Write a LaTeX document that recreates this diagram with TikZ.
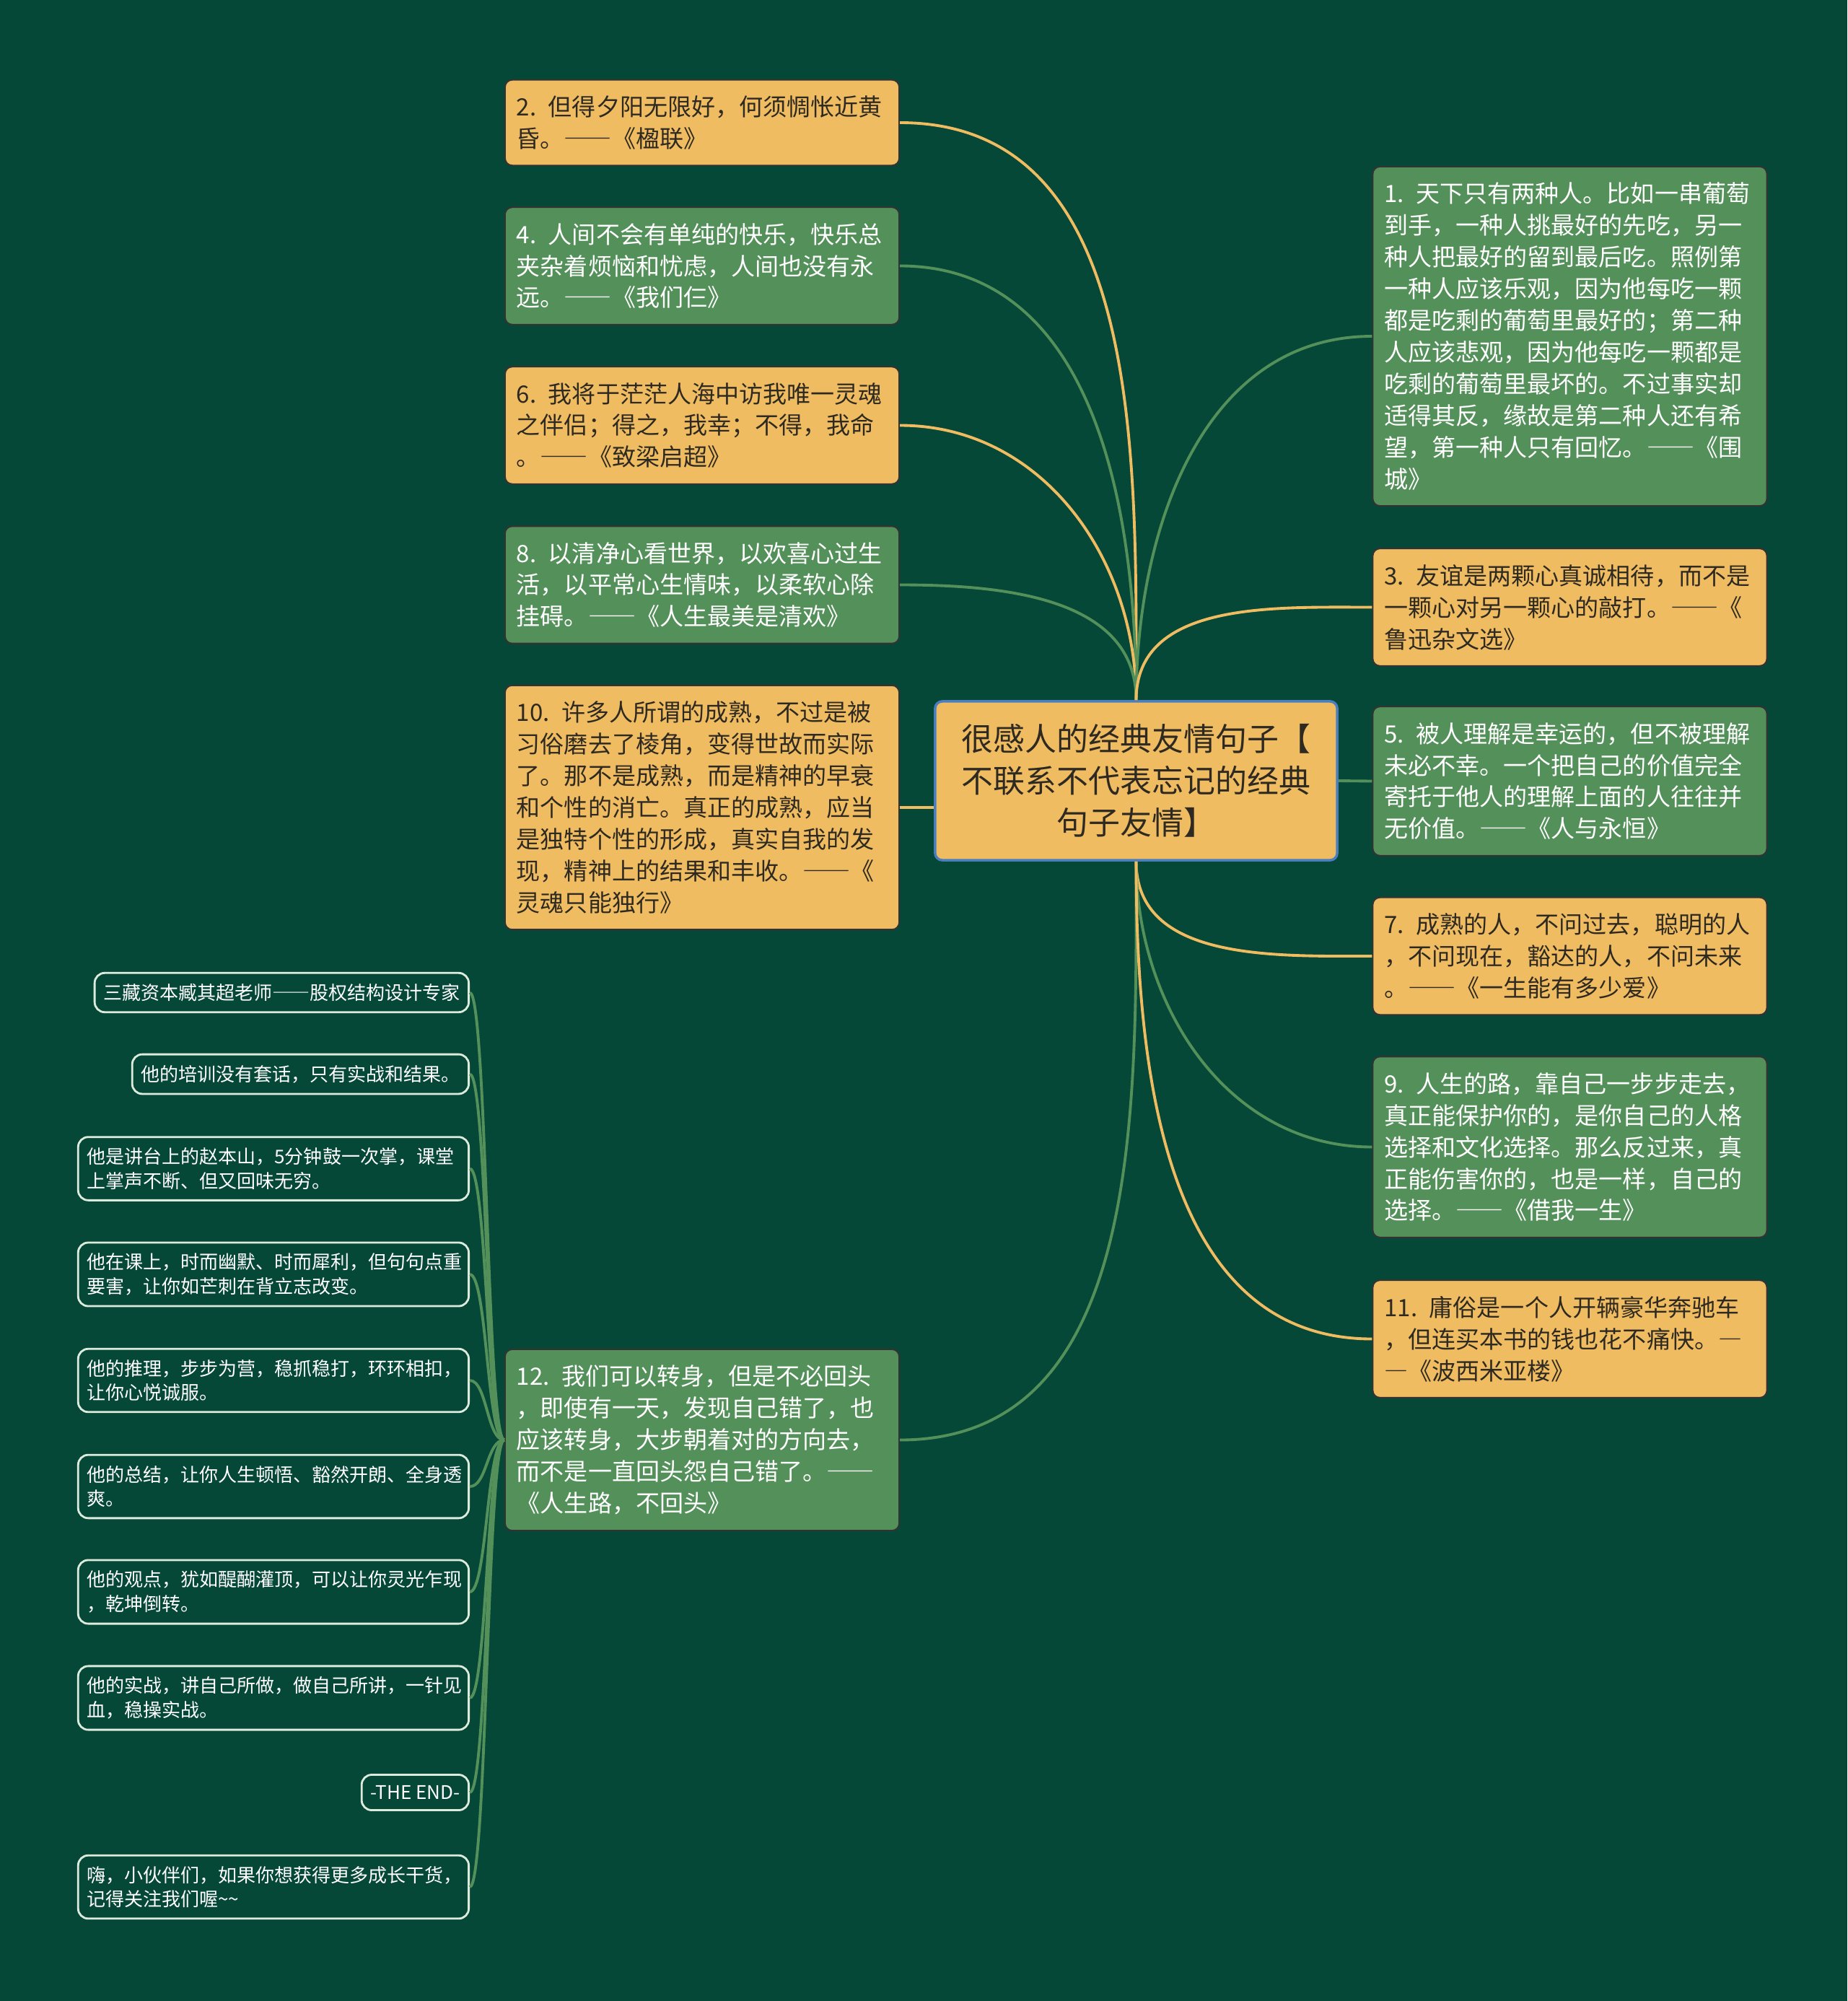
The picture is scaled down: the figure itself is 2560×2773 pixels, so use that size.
\documentclass[tikz,border=0pt]{standalone}
\usepackage{fontspec}
\setmainfont{Noto Sans CJK SC}
\newfontfamily\fwfont[RawFeature=+fwid]{Noto Sans CJK SC}
\newcommand\zdash{{\fwfont ——}}
\newcommand\qfont{\fontsize{9.4pt}{12.5pt}\selectfont\spaceskip=1.4pt\relax}
\definecolor{bgcol}{HTML}{064838}
\definecolor{ylw}{HTML}{F0BC62}
\definecolor{grn}{HTML}{54905A}
\definecolor{ink}{HTML}{2E2A22}
\definecolor{rootline}{HTML}{4A7EBF}
\definecolor{leafline}{HTML}{DDEBDD}

\begin{document}
\begin{tikzpicture}[x=0.01cm, y=-0.01cm,
    ybox/.style={draw=black!80, line width=0.6pt, fill=ylw, text=ink, rounded corners=0.1cm,
        text width=5.14cm, align=left, inner xsep=0.16cm, inner ysep=0.22cm, font=\qfont},
    gbox/.style={ybox, fill=grn, text=white},
    root/.style={draw=rootline, line width=1pt, fill=ylw, text=ink, rounded corners=0.1cm,
        minimum width=5.57cm, minimum height=2.2cm, align=center,
        font=\fontsize{12.5pt}{16.5pt}\selectfont},
    leaf/.style={draw=leafline, line width=0.8pt, rounded corners=0.14cm, text=white,
        align=left, inner xsep=0.12cm, inner ysep=0.15cm, anchor=east,
        font=\fontsize{7.4pt}{9.5pt}\selectfont},
    leafwide/.style={leaf, text width=5.17cm},
    ylink/.style={draw=ylw, line width=1.1pt},
    glink/.style={draw=grn, line width=1.1pt}]
    \fill[bgcol] (0,0) rectangle (2560,2773);
    \pgfmathsetmacro\lx{973}
    \pgfmathsetmacro\rx{2175.5}
    \pgfmathsetmacro\ex{651}
    \node[root] (root) at (1574.5,1082) {很感人的经典友情句子【\\不联系不代表忘记的经典\\句子友情】};
    \node[ybox] (q2) at (\lx,170) {2. 但得夕阳无限好，何须惆怅近黄\\昏。\zdash《楹联》};
    \node[gbox] (q4) at (\lx,368.5) {4. 人间不会有单纯的快乐，快乐总\\夹杂着烦恼和忧虑，人间也没有永\\远。\zdash《我们仨》};
    \node[ybox] (q6) at (\lx,589.5) {6. 我将于茫茫人海中访我唯一灵魂\\之伴侣；得之，我幸；不得，我命\\。\zdash《致梁启超》};
    \node[gbox] (q8) at (\lx,810.5) {8. 以清净心看世界，以欢喜心过生\\活，以平常心生情味，以柔软心除\\挂碍。\zdash《人生最美是清欢》};
    \node[ybox] (q10) at (\lx,1119) {10. 许多人所谓的成熟，不过是被\\习俗磨去了棱角，变得世故而实际\\了。那不是成熟，而是精神的早衰\\和个性的消亡。真正的成熟，应当\\是独特个性的形成，真实自我的发\\现，精神上的结果和丰收。\zdash《\\灵魂只能独行》};
    \node[gbox] (q12) at (\lx,1995.5) {12. 我们可以转身，但是不必回头\\，即使有一天，发现自己错了，也\\应该转身，大步朝着对的方向去，\\而不是一直回头怨自己错了。\zdash\\《人生路，不回头》};
    \node[gbox] (q1) at (\rx,466) {1. 天下只有两种人。比如一串葡萄\\到手，一种人挑最好的先吃，另一\\种人把最好的留到最后吃。照例第\\一种人应该乐观，因为他每吃一颗\\都是吃剩的葡萄里最好的；第二种\\人应该悲观，因为他每吃一颗都是\\吃剩的葡萄里最坏的。不过事实却\\适得其反，缘故是第二种人还有希\\望，第一种人只有回忆。\zdash《围\\城》};
    \node[ybox] (q3) at (\rx,841.5) {3. 友谊是两颗心真诚相待，而不是\\一颗心对另一颗心的敲打。\zdash《\\鲁迅杂文选》};
    \node[gbox] (q5) at (\rx,1082.5) {5. 被人理解是幸运的，但不被理解\\未必不幸。一个把自己的价值完全\\寄托于他人的理解上面的人往往并\\无价值。\zdash《人与永恒》};
    \node[ybox] (q7) at (\rx,1325) {7. 成熟的人，不问过去，聪明的人\\，不问现在，豁达的人，不问未来\\。\zdash《一生能有多少爱》};
    \node[gbox] (q9) at (\rx,1589.5) {9. 人生的路，靠自己一步步走去，\\真正能保护你的，是你自己的人格\\选择和文化选择。那么反过来，真\\正能伤害你的，也是一样，自己的\\选择。\zdash《借我一生》};
    \node[ybox] (q11) at (\rx,1855.5) {11. 庸俗是一个人开辆豪华奔驰车\\，但连买本书的钱也花不痛快。{\fwfont —}\\{\fwfont —}《波西米亚楼》};
    \node[leaf] (l1) at (\ex,1375.5) {三藏资本臧其超老师\zdash 股权结构设计专家};
    \node[leaf] (l2) at (\ex,1488.5) {他的培训没有套话，只有实战和结果。};
    \node[leafwide] (l3) at (\ex,1619.5) {他是讲台上的赵本山，5分钟鼓一次掌，课堂\\上掌声不断、但又回味无穷。};
    \node[leafwide] (l4) at (\ex,1766) {他在课上，时而幽默、时而犀利，但句句点重\\要害，让你如芒刺在背立志改变。};
    \node[leafwide] (l5) at (\ex,1913) {他的推理，步步为营，稳抓稳打，环环相扣，\\让你心悦诚服。};
    \node[leafwide] (l6) at (\ex,2060) {他的总结，让你人生顿悟、豁然开朗、全身透\\爽。};
    \node[leafwide] (l7) at (\ex,2206) {他的观点，犹如醍醐灌顶，可以让你灵光乍现\\，乾坤倒转。};
    \node[leafwide] (l8) at (\ex,2353) {他的实战，讲自己所做，做自己所讲，一针见\\血，稳操实战。};
    \node[leaf] (l9) at (\ex,2484) {-THE END-};
    \node[leafwide] (l10) at (\ex,2615) {嗨，小伙伴们，如果你想获得更多成长干货，\\记得关注我们喔\textasciitilde\textasciitilde};
    \draw[ylink] (root.north) to[out=90,in=0] (q2.east);
    \draw[glink] (root.north) to[out=90,in=0] (q4.east);
    \draw[ylink] (root.north) to[out=90,in=0] (q6.east);
    \draw[glink] (root.north) to[out=90,in=0] (q8.east);
    \draw[ylink] (q10.east) -- (q10.east -| root.west);
    \draw[glink] (root.south) to[out=-90,in=0] (q12.east);
    \draw[glink] (root.north) to[out=90,in=180] (q1.west);
    \draw[ylink] (root.north) to[out=90,in=180] (q3.west);
    \draw[glink] (root.east) -- (q5.west);
    \draw[ylink] (root.south) to[out=-90,in=180] (q7.west);
    \draw[glink] (root.south) to[out=-90,in=180] (q9.west);
    \draw[ylink] (root.south) to[out=-90,in=180] (q11.west);
    \foreach \n in {1,...,10}
        \draw[glink] (q12.west) .. controls +(-24,0) and +(24,0) .. (l\n.east);
\end{tikzpicture}
\end{document}
